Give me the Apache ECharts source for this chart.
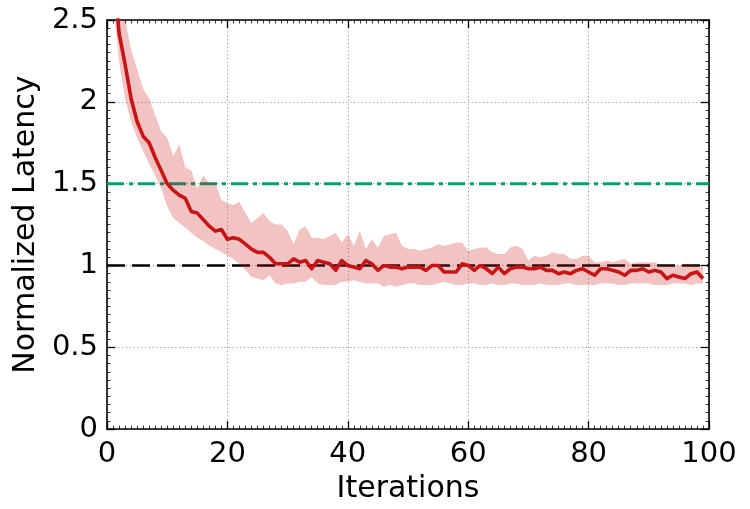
<!DOCTYPE html>
<html>
<head>
<meta charset="utf-8">
<script src="https://cdn.jsdelivr.net/npm/echarts@6/dist/echarts.min.js"></script>
<style>html,body{margin:0;padding:0;background:#fff;}#c{width:750px;height:509px;}</style>
</head>
<body>
<div id="c"></div>
<script>
const firstIteration = 1;
const meanLatency = [
 2.85,2.42,2.23,2.02,1.88,1.79,1.75,1.66,1.58,1.50,
 1.46,1.43,1.41,1.33,1.32,1.28,1.24,1.21,1.22,1.16,
 1.17,1.16,1.13,1.10,1.08,1.08,1.05,1.01,1.01,1.01,
 1.04,1.02,1.03,0.98,1.03,1.02,1.01,0.97,1.03,1.00,
 0.99,0.98,1.03,1.01,0.97,1.00,0.99,0.99,0.98,0.99,
 0.99,0.99,0.97,1.00,1.00,0.96,0.96,0.96,1.01,1.00,
 0.97,1.00,0.98,0.95,0.99,0.95,0.98,0.99,0.99,0.98,
 0.98,0.99,0.97,0.97,0.95,0.96,0.95,0.97,0.98,0.96,
 0.94,0.98,0.98,0.97,0.96,0.94,0.97,0.97,0.98,0.96,
 0.97,0.96,0.92,0.94,0.93,0.92,0.95,0.96,0.92
];
const upperLatency = [
 3.20,2.85,2.50,2.32,2.20,2.08,2.02,1.92,1.82,1.78,
 1.67,1.74,1.60,1.58,1.47,1.55,1.50,1.51,1.40,1.38,
 1.37,1.39,1.32,1.26,1.29,1.32,1.27,1.25,1.25,1.21,
 1.13,1.22,1.24,1.17,1.17,1.16,1.18,1.20,1.14,1.19,
 1.12,1.21,1.10,1.16,1.11,1.18,1.19,1.20,1.12,1.10,
 1.10,1.09,1.10,1.11,1.13,1.12,1.13,1.14,1.14,1.09,
 1.10,1.11,1.11,1.08,1.07,1.07,1.11,1.12,1.10,1.03,
 1.06,1.05,1.06,1.08,1.07,1.07,1.04,1.04,1.06,1.06,
 1.02,1.02,1.03,1.02,1.03,1.04,1.01,1.02,1.02,1.02,
 1.02,1.00,1.01,1.00,1.00,1.01,1.01,1.00,0.99
];
const lowerLatency = [
 2.62,2.25,2.02,1.88,1.78,1.70,1.62,1.55,1.47,1.36,
 1.29,1.26,1.23,1.20,1.17,1.15,1.12,1.10,1.08,1.06,
 1.04,1.01,0.97,0.93,0.92,0.91,0.94,0.89,0.88,0.89,
 0.89,0.90,0.90,0.93,0.89,0.88,0.88,0.88,0.90,0.90,
 0.91,0.90,0.89,0.89,0.89,0.87,0.88,0.87,0.88,0.89,
 0.89,0.88,0.88,0.88,0.89,0.90,0.89,0.88,0.88,0.89,
 0.89,0.88,0.88,0.89,0.88,0.88,0.89,0.89,0.88,0.88,
 0.88,0.89,0.88,0.88,0.88,0.89,0.89,0.88,0.88,0.88,
 0.88,0.89,0.89,0.89,0.88,0.88,0.89,0.89,0.89,0.89,
 0.88,0.88,0.88,0.89,0.89,0.89,0.88,0.89,0.89
];
const targetLevel = 1.5;
const baselineLevel = 1.0;
const xRange = [0, 100];
const yRange = [0, 2.5];
const xTicks = [0, 20, 40, 60, 80, 100];
const yTicks = [0, 0.5, 1, 1.5, 2, 2.5];

const it = meanLatency.map((_, i) => firstIteration + i);
const meanData = meanLatency.map((v, i) => [it[i], v]);
const bandData = it.map((x, i) => [x, lowerLatency[i], upperLatency[i]]);

const FONT = 'DejaVu Sans';
const gridLine = {show: true, lineStyle: {color: '#9a9a9a', width: 1, type: [1.2, 2.6]}};
function yFmt(v){ return v === 0 ? '0' : String(v); }

function axisBase(extra, minorSplit) {
  return Object.assign({
    type: 'value',
    axisLine: {show: true, onZero: false, lineStyle: {color: '#000', width: 1.6}},
    axisTick: {show: true, inside: true, length: 8, lineStyle: {color: '#000', width: 1.3}},
    minorTick: {show: true, splitNumber: minorSplit, length: 3.5, lineStyle: {color: '#000', width: 0.8}}
  }, extra);
}

function renderBand(params, api) {
  if (params.dataIndexInside !== 0) return;
  const top = [], bot = [];
  for (let i = 0; i < bandData.length; i++) {
    top.push(api.coord([bandData[i][0], bandData[i][2]]));
    bot.push(api.coord([bandData[i][0], bandData[i][1]]));
  }
  return {
    type: 'polygon',
    shape: {points: top.concat(bot.reverse())},
    style: {fill: 'rgba(205,25,25,0.26)'},
    clipPath: {
      type: 'rect',
      shape: {x: params.coordSys.x, y: params.coordSys.y, width: params.coordSys.width, height: params.coordSys.height}
    }
  };
}

const chart = echarts.init(document.getElementById('c'), null, {renderer: 'canvas'});
chart.setOption({
  animation: false,
  backgroundColor: '#fff',
  grid: {left: 107, right: 41, top: 20, bottom: 77, containLabel: false},
  xAxis: [
    axisBase({
      min: xRange[0], max: xRange[1], interval: 20,
      name: 'Iterations', nameLocation: 'middle', nameGap: 43,
      nameTextStyle: {fontFamily: FONT, fontSize: 30, color: '#000'},
      axisLabel: {fontFamily: FONT, fontSize: 29, color: '#000', margin: 11,
        formatter: v => xTicks.includes(v) ? String(v) : ''},
      splitLine: gridLine
    }, 20),
    axisBase({
      position: 'top', min: xRange[0], max: xRange[1], interval: 20,
      axisLabel: {show: false}, splitLine: {show: false}
    }, 20)
  ],
  yAxis: [
    axisBase({
      min: yRange[0], max: yRange[1], interval: 0.5,
      name: 'Normalized Latency', nameLocation: 'middle', nameGap: 63,
      nameTextStyle: {fontFamily: FONT, fontSize: 30, color: '#000'},
      axisLabel: {fontFamily: FONT, fontSize: 29, color: '#000', margin: 9,
        formatter: v => yTicks.includes(v) ? yFmt(v) : ''},
      splitLine: gridLine
    }, 10),
    axisBase({
      position: 'right', min: yRange[0], max: yRange[1], interval: 0.5,
      axisLabel: {show: false}, splitLine: {show: false}
    }, 10)
  ],
  series: [
    {
      type: 'line', name: 'target', z: 1, symbol: 'none', silent: true,
      data: [[xRange[0], targetLevel], [xRange[1], targetLevel]],
      lineStyle: {color: '#009E73', width: 3, type: [17, 5, 4, 5]}
    },
    {
      type: 'line', name: 'baseline', z: 1, symbol: 'none', silent: true,
      data: [[xRange[0], baselineLevel], [xRange[1], baselineLevel]],
      lineStyle: {color: '#000', width: 2.6, type: [18, 7]}
    },
    {
      type: 'custom', name: 'band', z: 2, silent: true,
      data: bandData, encode: {x: 0, y: [1, 2]},
      renderItem: renderBand
    },
    {
      type: 'line', name: 'mean', z: 3, symbol: 'none', silent: true,
      data: meanData,
      lineStyle: {color: '#c81414', width: 3.6, join: 'round'}
    },
    {type: 'line', name: 'mirror', xAxisIndex: 1, yAxisIndex: 1, data: [], silent: true}
  ]
});
</script>
</body>
</html>
